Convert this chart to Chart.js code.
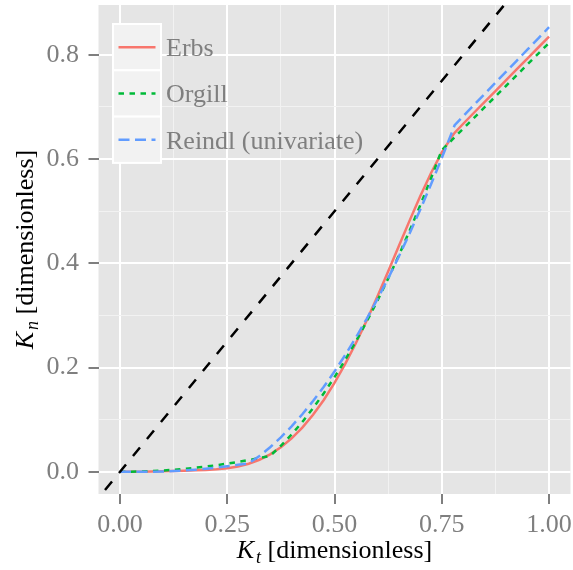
<!DOCTYPE html>
<html>
<head>
<meta charset="utf-8">
<script src="https://cdn.jsdelivr.net/npm/chart.js@4.4.0/dist/chart.umd.min.js"></script>
<style>
    html, body { margin:0; padding:0; background:#FFFFFF; }
    #wrap { width:573px; height:570px; position:relative; }
</style>
</head>
<body>
<div id="wrap"><canvas id="chartKn"></canvas></div>
<script>

/* ---------- data ---------- */

const ktValues = [
    0, 0.025, 0.05, 0.075, 0.1, 0.125, 0.15, 0.175, 0.2, 0.225,
    0.25, 0.275, 0.3, 0.325, 0.35, 0.375, 0.4, 0.425, 0.45, 0.475,
    0.5, 0.525, 0.55, 0.575, 0.6, 0.625, 0.65, 0.675, 0.7, 0.725,
    0.75, 0.775, 0.78, 0.8, 0.825, 0.85, 0.875, 0.9, 0.925, 0.95,
    0.975, 1
];

const erbsValues = [
    0, 0.0001, 0.0002, 0.0005, 0.0009, 0.0014, 0.0020, 0.0028, 0.0036, 0.0047,
    0.0066, 0.0101, 0.0154, 0.0231, 0.0335, 0.0470, 0.0640, 0.0847, 0.1093, 0.1378,
    0.1704, 0.2069, 0.2470, 0.2903, 0.3363, 0.3842, 0.4332, 0.4819, 0.5292, 0.5734,
    0.6127, 0.6449, 0.6503, 0.6678, 0.6889, 0.7098, 0.7306, 0.7515, 0.7724, 0.7933,
    0.8141, 0.8350
];

const orgillValues = [
    0, 0.0002, 0.0006, 0.0014, 0.0025, 0.0039, 0.0056, 0.0076, 0.0100, 0.0126,
    0.0156, 0.0188, 0.0224, 0.0263, 0.0305, 0.0499, 0.0716, 0.0956, 0.1220, 0.1506,
    0.1815, 0.2147, 0.2503, 0.2881, 0.3282, 0.3706, 0.4154, 0.4624, 0.5117, 0.5633,
    0.6173, 0.6378, 0.6419, 0.6584, 0.6790, 0.6996, 0.7201, 0.7407, 0.7613, 0.7819,
    0.8024, 0.8230
];

const reindlValues = [
    0, 0, 0, 0, 0.0005, 0.0014, 0.0026, 0.0041, 0.0059, 0.0081,
    0.0105, 0.0133, 0.0163, 0.0301, 0.0471, 0.0661, 0.0872, 0.1104, 0.1357, 0.1630,
    0.1925, 0.2240, 0.2577, 0.2934, 0.3312, 0.3711, 0.4131, 0.4571, 0.5033, 0.5515,
    0.6019, 0.6543, 0.6650, 0.6824, 0.7037, 0.7251, 0.7464, 0.7677, 0.7890, 0.8104,
    0.8317, 0.8530
];

// y = x reference line (clipped to the panel)
const diagonalValues = [-0.1, 1.0];

const seriesLabels = ["Erbs", "Orgill", "Reindl (univariate)"];

const xMajorTicks = [0, 0.25, 0.5, 0.75, 1];
const xMinorTicks = [0.125, 0.375, 0.625, 0.875];
const yMajorTicks = [0, 0.2, 0.4, 0.6, 0.8];
const yMinorTicks = [0.1, 0.3, 0.5, 0.7];

const xLimits = [-0.05, 1.05];
const yLimits = [-0.04265, 0.89565];

/* ---------- helpers ---------- */

const SERIF = '"Liberation Serif", "DejaVu Serif", serif';
const GREY_TEXT = "#7F7F7F";

function toPoints(xs, ys) {
    return xs.map((x, i) => ({ x: x, y: ys[i] }));
}

function isMajor(list, v) {
    return list.some(t => Math.abs(t - v) < 1e-9);
}

function gridTicks(major, minor) {
    return major.concat(minor).sort((a, b) => a - b).map(v => ({ value: v }));
}

/* ---------- plugins ---------- */

const panelBackground = {
    id: "panelBackground",
    beforeDraw(chart) {
        const { ctx, chartArea } = chart;
        ctx.save();
        ctx.fillStyle = "#FFFFFF";
        ctx.fillRect(0, 0, chart.width, chart.height);
        ctx.fillStyle = "#E5E5E5";
        ctx.fillRect(chartArea.left, chartArea.top,
            chartArea.right - chartArea.left, chartArea.bottom - chartArea.top);
        ctx.restore();
    }
};

function drawSubTitle(ctx, main, sub, rest, cx, baseY) {
    ctx.font = "italic 26px " + SERIF;
    const wMain = ctx.measureText(main).width;
    ctx.font = "italic 18px " + SERIF;
    const wSub = ctx.measureText(sub).width;
    ctx.font = "26px " + SERIF;
    const wRest = ctx.measureText(rest).width;
    const gap = 2;
    let x = cx - (wMain + gap + wSub + wRest) / 2;

    ctx.textAlign = "left";
    ctx.textBaseline = "alphabetic";
    ctx.fillStyle = "#000000";
    ctx.font = "italic 26px " + SERIF;
    ctx.fillText(main, x, baseY);
    x += wMain + gap;
    ctx.font = "italic 18px " + SERIF;
    ctx.fillText(sub, x, baseY + 5);
    x += wSub;
    ctx.font = "26px " + SERIF;
    ctx.fillText(rest, x, baseY);
}

const axisTitles = {
    id: "axisTitles",
    afterDraw(chart) {
        const { ctx, chartArea } = chart;
        const cx = (chartArea.left + chartArea.right) / 2;
        const cy = (chartArea.top + chartArea.bottom) / 2;

        ctx.save();
        drawSubTitle(ctx, "K", "t", " [dimensionless]", cx, 558);
        ctx.restore();

        ctx.save();
        ctx.translate(33, cy);
        ctx.rotate(-Math.PI / 2);
        drawSubTitle(ctx, "K", "n", " [dimensionless]", 0, 0);
        ctx.restore();
    }
};

const keyLegend = {
    id: "keyLegend",
    afterDraw(chart) {
        const { ctx, chartArea } = chart;
        const left = chartArea.left + 14.5;
        const top = chartArea.top + 19;
        const cellW = 48;
        const cellH = 46.3;

        const sets = chart.data.datasets.filter(d => seriesLabels.includes(d.label));
        sets.sort((a, b) => seriesLabels.indexOf(a.label) - seriesLabels.indexOf(b.label));

        ctx.save();
        sets.forEach((ds, i) => {
            const y0 = top + i * cellH;

            ctx.fillStyle = "#F2F2F2";
            ctx.fillRect(left, y0, cellW, cellH);
            ctx.strokeStyle = "#FFFFFF";
            ctx.lineWidth = 2;
            ctx.strokeRect(left, y0, cellW, cellH);

            const ly = y0 + cellH / 2;
            ctx.beginPath();
            ctx.setLineDash(ds.borderDash || []);
            ctx.lineCap = "butt";
            ctx.strokeStyle = ds.borderColor;
            ctx.lineWidth = ds.borderWidth;
            ctx.moveTo(left + 5.5, ly);
            ctx.lineTo(left + 42.5, ly);
            ctx.stroke();
            ctx.setLineDash([]);

            ctx.fillStyle = GREY_TEXT;
            ctx.font = "26px " + SERIF;
            ctx.textAlign = "left";
            ctx.textBaseline = "alphabetic";
            ctx.fillText(ds.label, left + cellW + 5, ly + 9);
        });
        ctx.restore();
    }
};

/* ---------- chart ---------- */

let knChart = null;

function buildKnChart() {

    const ctx = document
        .getElementById("chartKn")
        .getContext("2d");

    knChart = new Chart(ctx, {

        type: "line",

        data: {
            datasets: [
                {
                    label: "y = x",
                    data: toPoints(diagonalValues, diagonalValues),
                    borderColor: "#000000",
                    borderWidth: 2.5,
                    borderDash: [11, 11],
                    clip: 0
                },
                {
                    label: seriesLabels[2],
                    data: toPoints(ktValues, reindlValues),
                    borderColor: "#619CFF",
                    borderWidth: 2.5,
                    borderDash: [11, 5.5]
                },
                {
                    label: seriesLabels[1],
                    data: toPoints(ktValues, orgillValues),
                    borderColor: "#00BA38",
                    borderWidth: 2.5,
                    borderDash: [5.5, 5.5]
                },
                {
                    label: seriesLabels[0],
                    data: toPoints(ktValues, erbsValues),
                    borderColor: "#F8766D",
                    borderWidth: 2.5
                }
            ]
        },

        options: {
            responsive: true,
            maintainAspectRatio: false,
            animation: false,
            events: [],
            layout: {
                padding: { left: 0, right: 2.5, top: 5, bottom: 0 }
            },
            elements: {
                point: { radius: 0 },
                line: { tension: 0, fill: false, borderCapStyle: "butt" }
            },
            plugins: {
                legend: { display: false },
                tooltip: { enabled: false }
            },
            scales: {
                x: {
                    type: "linear",
                    min: xLimits[0],
                    max: xLimits[1],
                    afterBuildTicks(scale) {
                        scale.ticks = gridTicks(xMajorTicks, xMinorTicks);
                    },
                    afterFit(scale) {
                        scale.height = 76;
                        scale.paddingLeft = 0;
                        scale.paddingRight = 0;
                    },
                    border: { display: false },
                    grid: {
                        color: c => isMajor(xMajorTicks, c.tick.value) ? "#FFFFFF" : "#F2F2F2",
                        lineWidth: c => isMajor(xMajorTicks, c.tick.value) ? 2 : 1,
                        tickColor: c => isMajor(xMajorTicks, c.tick.value) ? GREY_TEXT : "rgba(0,0,0,0)",
                        tickWidth: 2,
                        tickLength: 10
                    },
                    ticks: {
                        autoSkip: false,
                        maxRotation: 0,
                        padding: 6,
                        color: GREY_TEXT,
                        font: { family: SERIF, size: 26 },
                        callback: v => isMajor(xMajorTicks, v) ? v.toFixed(2) : ""
                    }
                },
                y: {
                    type: "linear",
                    min: yLimits[0],
                    max: yLimits[1],
                    afterBuildTicks(scale) {
                        scale.ticks = gridTicks(yMajorTicks, yMinorTicks);
                    },
                    afterFit(scale) {
                        scale.width = 98.5;
                        scale.paddingTop = 0;
                        scale.paddingBottom = 0;
                    },
                    border: { display: false },
                    grid: {
                        color: c => isMajor(yMajorTicks, c.tick.value) ? "#FFFFFF" : "#F2F2F2",
                        lineWidth: c => isMajor(yMajorTicks, c.tick.value) ? 2 : 1,
                        tickColor: c => isMajor(yMajorTicks, c.tick.value) ? GREY_TEXT : "rgba(0,0,0,0)",
                        tickWidth: 2,
                        tickLength: 10
                    },
                    ticks: {
                        autoSkip: false,
                        padding: 9.5,
                        color: GREY_TEXT,
                        font: { family: SERIF, size: 26 },
                        callback: v => isMajor(yMajorTicks, v) ? v.toFixed(1) : ""
                    }
                }
            }
        },

        plugins: [panelBackground, keyLegend, axisTitles]

    });

}

buildKnChart();

</script>
</body>
</html>
